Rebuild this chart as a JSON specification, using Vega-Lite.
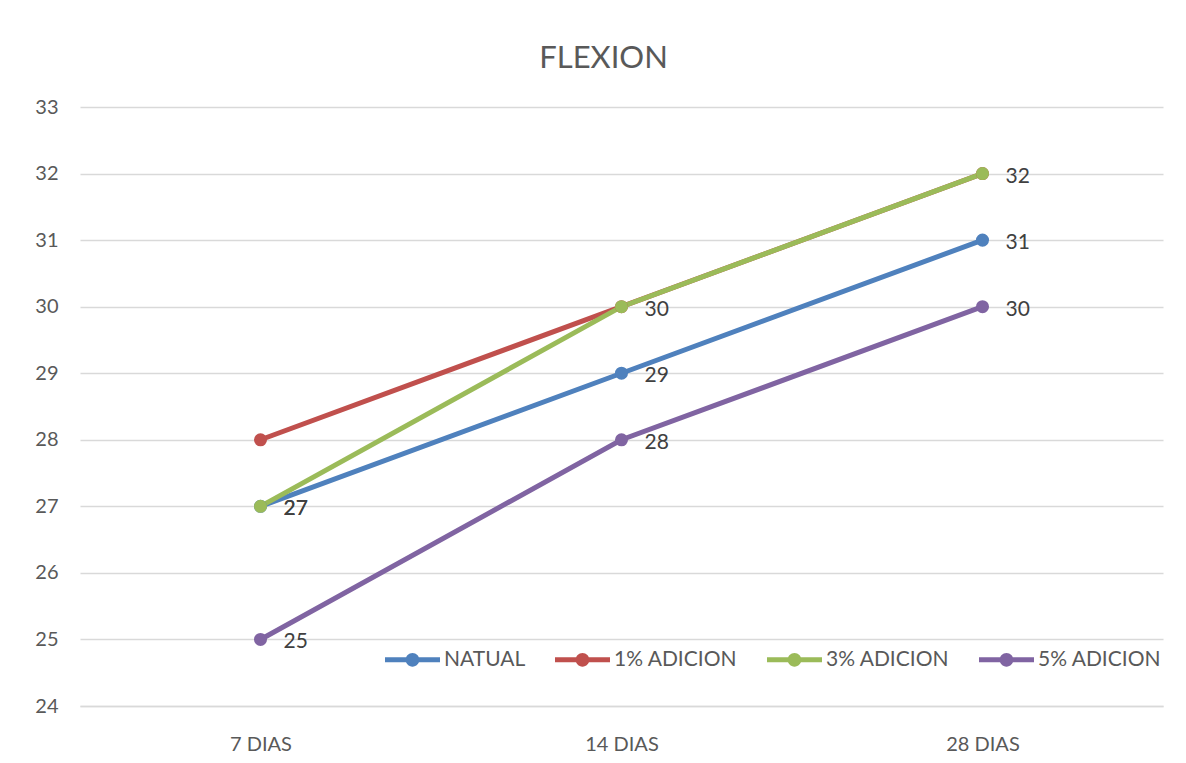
{
  "$schema": "https://vega.github.io/schema/vega-lite/v6.json",
  "autosize": "none",
  "width": 1083,
  "height": 599,
  "padding": {"left": 80, "top": 107, "right": 23, "bottom": 57},
  "background": "white",
  "title": {
    "text": "FLEXION",
    "font": "Lato",
    "fontSize": 31,
    "fontWeight": "normal",
    "color": "#595959",
    "anchor": "middle",
    "dx": -18,
    "offset": 22
  },
  "config": {
    "font": "Lato",
    "view": {"stroke": null}
  },
  "data": {
    "values": [
      {"serie": "NATUAL", "edad": "7 DIAS", "valor": 27, "etiqueta": true},
      {"serie": "NATUAL", "edad": "14 DIAS", "valor": 29, "etiqueta": true},
      {"serie": "NATUAL", "edad": "28 DIAS", "valor": 31, "etiqueta": true},
      {"serie": "1% ADICION", "edad": "7 DIAS", "valor": 28, "etiqueta": false},
      {"serie": "1% ADICION", "edad": "14 DIAS", "valor": 30, "etiqueta": false},
      {"serie": "1% ADICION", "edad": "28 DIAS", "valor": 32, "etiqueta": false},
      {"serie": "3% ADICION", "edad": "7 DIAS", "valor": 27, "etiqueta": true},
      {"serie": "3% ADICION", "edad": "14 DIAS", "valor": 30, "etiqueta": true},
      {"serie": "3% ADICION", "edad": "28 DIAS", "valor": 32, "etiqueta": true},
      {"serie": "5% ADICION", "edad": "7 DIAS", "valor": 25, "etiqueta": true},
      {"serie": "5% ADICION", "edad": "14 DIAS", "valor": 28, "etiqueta": true},
      {"serie": "5% ADICION", "edad": "28 DIAS", "valor": 30, "etiqueta": true}
    ]
  },
  "encoding": {
    "x": {
      "field": "edad",
      "type": "nominal",
      "sort": ["7 DIAS", "14 DIAS", "28 DIAS"],
      "scale": {"paddingInner": 0, "paddingOuter": 0},
      "axis": {
        "title": null,
        "labelAngle": 0,
        "labelFontSize": 20,
        "labelColor": "#595959",
        "labelPadding": 28,
        "ticks": false,
        "domainColor": "#d9d9d9",
        "domainWidth": 1.5
      }
    },
    "y": {
      "field": "valor",
      "type": "quantitative",
      "scale": {"domain": [24, 33], "nice": false, "zero": false},
      "axis": {
        "title": null,
        "values": [24, 25, 26, 27, 28, 29, 30, 31, 32, 33],
        "labelFontSize": 20,
        "labelColor": "#595959",
        "labelPadding": 22,
        "ticks": false,
        "domain": false,
        "gridColor": "#d9d9d9",
        "gridWidth": 1.5
      }
    },
    "color": {
      "field": "serie",
      "type": "nominal",
      "sort": ["NATUAL", "1% ADICION", "3% ADICION", "5% ADICION"],
      "scale": {
        "domain": ["NATUAL", "1% ADICION", "3% ADICION", "5% ADICION"],
        "range": ["#4F81BD", "#C0504D", "#9BBB59", "#8064A2"]
      },
      "legend": {
        "title": null,
        "orient": "none",
        "direction": "horizontal",
        "legendX": 305,
        "legendY": 525,
        "symbolType": "M -1 -0.09 H 1 V 0.09 H -1 Z M 0.25 0 A 0.25 0.25 0 1 1 -0.25 0 A 0.25 0.25 0 1 1 0.25 0 Z",
        "symbolSize": 3025,
        "symbolStrokeWidth": 0,
        "symbolOpacity": 1,
        "labelFontSize": 21,
        "labelColor": "#595959",
        "labelOffset": 4,
        "columnPadding": 29
      }
    }
  },
  "layer": [
    {
      "mark": {"type": "line", "strokeWidth": 5, "strokeCap": "round"}
    },
    {
      "mark": {"type": "point", "filled": true, "opacity": 1, "size": 170}
    },
    {
      "transform": [{"filter": "datum.etiqueta"}],
      "mark": {
        "type": "text",
        "align": "left",
        "baseline": "middle",
        "dx": 23,
        "dy": 3,
        "fontSize": 21,
        "color": "#404040"
      },
      "encoding": {
        "text": {"field": "valor", "type": "quantitative"},
        "color": {"value": "#404040"}
      }
    }
  ]
}
